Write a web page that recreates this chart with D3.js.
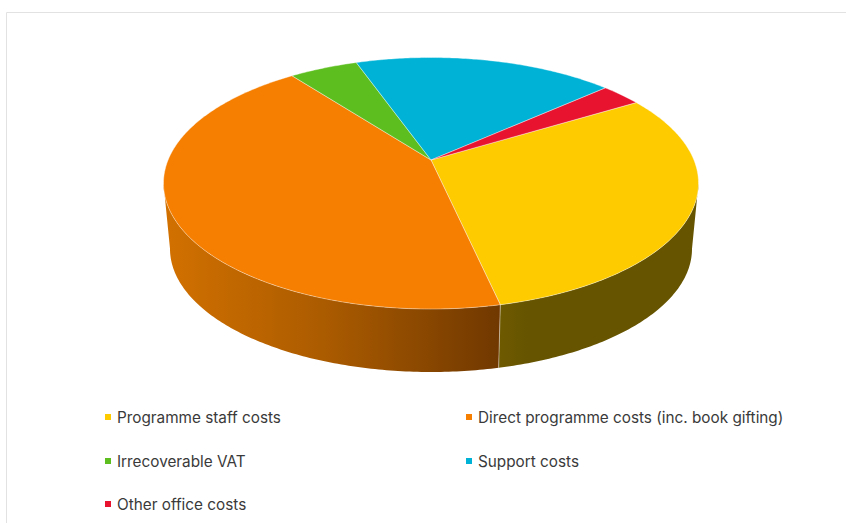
<!DOCTYPE html>
<html><head><meta charset="utf-8">
<style>html,body{margin:0;padding:0;background:#fff}svg{display:block}</style>
<script src="https://cdn.jsdelivr.net/npm/d3@7"></script>
</head><body>
<svg id="c" width="846" height="523"></svg>
<script>
const categories = ["Programme staff costs","Direct programme costs (inc. book gifting)","Irrecoverable VAT","Support costs","Other office costs"];
const values = [30.2,43.1,4.95,18.8,2.95];
const colors = ["#fdcb00","#f67e00","#5cbf1f","#00b3d6","#e7132f"];
const wallStops = [["#6e5a00","#665400","#665400"],["#d27100","#a95a00","#703800"]];
(function(){
const W=846,H=523;
const svg=d3.select("#c");
svg.append("path").attr("d",`M6.5,${H} V12.5 H${W}`).attr("fill","none").attr("stroke","#e2e2e2").attr("stroke-width",1);

const first=58.8*Math.PI/180;
const pie=d3.pie().sort(null).startAngle(first).endAngle(first+2*Math.PI);
const arcs=pie(values);

// perspective projection of the disc
const k=0.1849;
const sx=d3.scaleLinear().domain([-1,1]).range([431-262.9,431+262.9]);
const syTop=d3.scaleLinear().domain([-1,1]).range([160-121.45,160+121.45]);
const sxBot=d3.scaleLinear().domain([-1,1]).range([431-256.5,431+256.5]);
const syBot=d3.scaleLinear().domain([-1,1]).range([226-119,226+119]);
const proj=(a,r,xs,ys)=>{const u=r*Math.sin(a),v=-r*Math.cos(a),w=1-k*v;return [xs(u/w),ys(v/w)];};
const topPt=a=>proj(a,1,sx,syTop), botPt=a=>proj(a,1,sxBot,syBot);
const samples=(a0,a1)=>{const n=Math.max(2,Math.ceil((a1-a0)*80));return d3.range(n+1).map(i=>a0+(a1-a0)*i/n);};
const line=d3.line();

const defs=svg.append("defs");
[[0,498,699],[1,164,500]].forEach(([c,x0,x1])=>{
  const g=defs.append("linearGradient").attr("id","wall"+c).attr("gradientUnits","userSpaceOnUse")
    .attr("x1",x0).attr("x2",x1).attr("y1",0).attr("y2",0);
  const st=wallStops[c];
  g.append("stop").attr("offset",0).attr("stop-color",st[0]);
  g.append("stop").attr("offset",c===0?0.15:0.5).attr("stop-color",st[1]);
  g.append("stop").attr("offset",1).attr("stop-color",st[2]);
});

// walls: only the camera-facing part of the rim
const visA=Math.acos(-k), visB=2*Math.PI-Math.acos(-k);
arcs.forEach((d,i)=>{
  const a0=Math.max(d.startAngle,visA),a1=Math.min(d.endAngle,visB);
  if(a1<=a0) return;
  const s=samples(a0,a1);
  const pts=s.map(topPt).concat(s.slice().reverse().map(botPt));
  svg.append("path").attr("d",line(pts)+"Z")
    .attr("fill",i<2?`url(#wall${i})`:colors[i])
    .attr("stroke","none");
  if(d.startAngle>=visA&&d.startAngle<=visB){
    svg.append("path").attr("d",line([topPt(d.startAngle),botPt(d.startAngle)]))
      .attr("stroke","#fff").attr("stroke-opacity",.55).attr("stroke-width",.8).attr("fill","none");
  }
});
// top face
const apex=[sx(0),syTop(0)];
arcs.forEach((d,i)=>{
  const pts=[apex].concat(samples(d.startAngle,d.endAngle).map(topPt));
  svg.append("path").attr("d",line(pts)+"Z").attr("fill",colors[i])
    .attr("stroke","#fff").attr("stroke-opacity",.55).attr("stroke-width",.7).attr("stroke-linejoin","round");
});

// legend
const legendX=[105,466], legendY=[417,461,504];
categories.forEach((c,i)=>{
  const x=legendX[i%2], y=legendY[Math.floor(i/2)];
  svg.append("rect").attr("x",x).attr("y",y-3).attr("width",6).attr("height",6).attr("fill",colors[i]);
  svg.append("text").attr("x",x+12).attr("y",y+0.7).attr("dy","0.35em")
    .attr("font-family","Inter, 'Liberation Sans', sans-serif").attr("font-size",15.3).attr("fill","#3a3a3a").text(c);
});
})();
</script>
</body></html>
